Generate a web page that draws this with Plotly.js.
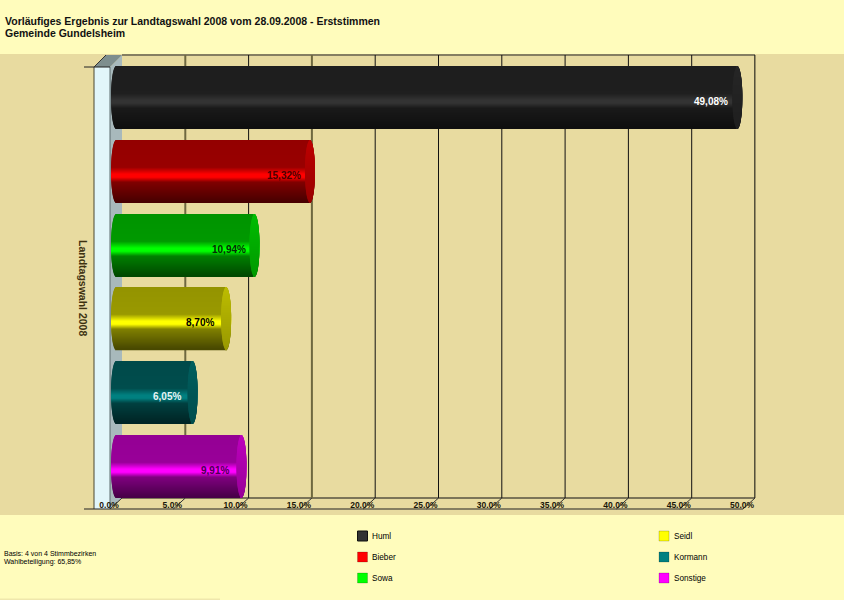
<!DOCTYPE html>
<html><head><meta charset="utf-8">
<script src="https://cdn.plot.ly/plotly-3.0.1.min.js"></script>
<style>html,body{margin:0;padding:0;background:#FFFCBC}</style></head>
<body><div id="chart" style="width:844px;height:600px"></div>
<script>
// ---- data ----
const parties = ["Huml","Bieber","Sowa","Seidl","Kormann","Sonstige"];
const shares  = [49.08,15.32,10.94,8.70,6.05,9.91];
const partyColors = [[51,51,51],[255,0,0],[0,255,0],[255,255,0],[0,128,128],[255,0,255]];
const labelColors = ["#ffffff","#4a0000","#062a06","#000000","#e8f4f4","#4a0050"];
const tickValues = [0,5,10,15,20,25,30,35,40,45,50];
const tickLabels = ["0.0%","5.0%","10.0%","15.0%","20.0%","25.0%","30.0%","35.0%","40.0%","45.0%","50.0%"];
const legendLeft  = [0,1,2];
const legendRight = [3,4,5];

// ---- page frame in pixels ----
const W=844,H=600,PL=84,L=122,R=755,T=55,B=498;
const fx=p=>(p-PL)/(R-PL), fy=p=>(B-p)/(B-T);
const font="Liberation Sans, Arial, sans-serif";
const unit=(R-L)/50;              // px per percent
const band=(B-T)/parties.length;  // px per category

// ---- cylinder shading ----
function shade(pos){
  if(pos<0.44) return 0.60-0.05*(0.44-pos);
  if(pos<0.55) return 0.60+0.40*(pos-0.44)/0.11;
  if(pos<0.60) return 1;
  if(pos<0.68) return 1-0.50*(pos-0.60)/0.08;
  return 0.50-0.22*(pos-0.68)/0.32;
}
const rgb=(c,f)=>`rgb(${c.map(v=>Math.round(v*f)).join(",")})`;

const rows=62, cyl=62/band, centre=5.6/band;     // cylinder height and shift in category units
const startX=-11/unit, capR=5/unit, tipTrim=1/unit;
const traces=[];
for(let r=0;r<rows;r++){
  const pos=(r+0.5)/rows, t=2*pos-1, s=Math.sqrt(1-t*t);
  const w=1.25/band, off=centre-cyl/2+r/band-0.1/band;
  const ins=capR*(1-s);
  traces.push({type:"bar",orientation:"h",y:parties,opacity:1,
    base:shares.map(()=>startX+ins),
    x:shares.map(v=>v-tipTrim-ins-(startX+ins)),
    width:w,offset:off,cliponaxis:false,hoverinfo:"skip",showlegend:false,
    marker:{color:partyColors.map(c=>rgb(c,shade(pos))),opacity:1,line:{width:0}}});
}
for(let r=0;r<rows;r++){
  const pos=(r+0.5)/rows, t=2*pos-1, s=Math.sqrt(1-t*t);
  const w=1.25/band, off=centre-cyl/2+r/band-0.1/band;
  traces.push({type:"bar",orientation:"h",y:parties,opacity:1,
    base:shares.map(v=>v-tipTrim-capR-capR*s),
    x:shares.map(()=>2*capR*s),
    width:w,offset:off,cliponaxis:false,hoverinfo:"skip",showlegend:false,
    marker:{color:partyColors.map(c=>rgb(c,0.74-0.14*pos)),opacity:1,line:{width:0}}});
}

// ---- furniture ----
const shapes=[];
const rect=(x0,y0,x1,y1,fill)=>shapes.push({type:"rect",layer:"below",xref:"paper",yref:"paper",
  x0:fx(x0),x1:fx(x1),y0:fy(y0),y1:fy(y1),fillcolor:fill,line:{width:0}});
const line=(x0,y0,x1,y1,c,w,layer)=>shapes.push({type:"line",layer:layer||"below",xref:"paper",yref:"paper",
  x0:fx(x0),x1:fx(x1),y0:fy(y0),y1:fy(y1),line:{color:c,width:w}});
const poly=(pts,fill)=>shapes.push({type:"path",layer:"below",xref:"paper",yref:"paper",
  path:"M"+pts.map(p=>fx(p[0])+","+fy(p[1])).join("L")+"Z",fillcolor:fill,line:{width:0}});

rect(0,54,W,515,"#E8DBA0");
rect(0,598.6,220,600,"#EFE7AC");
poly([[110,67],[122,55],[122,B],[110,509]],"#A8B9BC");
poly([[94,67],[110,67],[122,55],[106,55]],"#7E8E8E");
rect(94,67,110,509,"#E2F6FA");
line(94,67,94,509,"#4a4630",1);
line(110,67,110,509,"#5a6a6c",1);
line(84,67,110,67,"#222",1);
line(106,55,94,67,"#333",1);
line(122,T,R,T,"#222",1);
line(122,B,R,B,"#111",1.2);
line(84,509,743,509,"#222",1.2);
line(R,T,R,B,"#4a4630",1);
tickValues.forEach(v=>{
  const olive=(v===5||v===15);
  if(v>0) shapes.push({type:"line",layer:"below",xref:"x",yref:"paper",x0:v,x1:v,y0:0,y1:1,
    line:{color:olive?"#6E6840":"#111",width:olive?2:1}});
  const p=L+v*unit;
  line(p,B,p-12,509,"#333",1);
});

const annotations=[];
const note=(x,y,text,size,bold,color,extra)=>annotations.push(Object.assign({
  xref:"paper",yref:"paper",x:fx(x),y:fy(y),xanchor:"left",yanchor:"middle",showarrow:false,borderpad:0,
  text:bold?"<b>"+text+"</b>":text,font:{family:font,size:size,color:color||"#000"}},extra||{}));

note(4,33,"Gemeinde Gundelsheim",10.5,true,"#111");
note(3,553,"Basis: 4 von 4 Stimmbezirken",7);
note(3,562,"Wahlbeteiligung: 65,85%",7);
note(83,288,"Landtagswahl 2008",10.5,true,"#3E3210",{textangle:90,xanchor:"center"});

// value labels, placed by the axes
parties.forEach((p,i)=>annotations.push({xref:"x",yref:"y",x:shares[i]-32/unit,y:p,yshift:-9.5,showarrow:false,
  text:"<b>"+shares[i].toFixed(2).replace(".",",")+"%</b>",font:{family:font,size:10,color:labelColors[i]}}));

// hand-placed legend
const legendCol=(idx,sx,tx)=>idx.forEach((k,i)=>{
  const cy=536+21*i;
  rect(sx,cy-5,sx+10,cy+5,rgb(partyColors[k],1));
  shapes.push({type:"rect",layer:"below",xref:"paper",yref:"paper",x0:fx(sx),x1:fx(sx+10),y0:fy(cy-5),y1:fy(cy+5),
    fillcolor:"rgba(0,0,0,0)",line:{color:k===0?"#111":"rgba(0,0,0,0.18)",width:1}});
  note(tx,cy,parties[k],8.2,false,"#000");
});
legendCol(legendLeft,357.5,371);
legendCol(legendRight,659,673);

Plotly.newPlot("chart",traces,{
  width:W,height:H,autosize:false,barmode:"overlay",showlegend:false,
  paper_bgcolor:"#FFFCBC",plot_bgcolor:"rgba(0,0,0,0)",
  margin:{l:PL,r:W-R,t:T,b:H-B,pad:0},
  title:{text:"<b>Vorläufiges Ergebnis zur Landtagswahl 2008 vom 28.09.2008 - Erststimmen</b>",
    x:5/W,xanchor:"left",xref:"container",y:1-21/H,yanchor:"middle",
    font:{family:font,size:10.5,color:"#111"}},
  xaxis:{range:[(PL-L)/unit,50],tickvals:tickValues,ticktext:tickLabels.map(s=>"<b>"+s+"</b>"),showgrid:false,zeroline:false,showline:false,
    ticks:"",ticklabelshift:-13,ticklabelstandoff:0,tickangle:0,
    tickfont:{family:font,size:8.5,color:"#1a1608"}},
  yaxis:{type:"category",categoryorder:"array",categoryarray:parties,range:[5.5,-0.5],showticklabels:false,
    showgrid:false,zeroline:false,showline:false,ticks:""},
  shapes:shapes,annotations:annotations
},{displayModeBar:false});
</script></body></html>
